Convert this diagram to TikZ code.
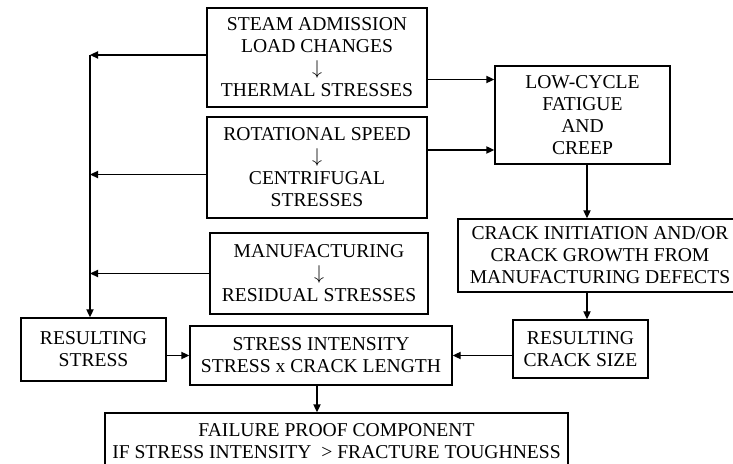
\documentclass[tikz,border=0pt]{standalone}
\usepackage{fontspec}
\setmainfont{Liberation Serif}
\usetikzlibrary{arrows.meta}

\begin{document}
\begin{tikzpicture}[x=0.5pt,y=-0.5pt,line width=0.7pt,>={Triangle[length=4pt,width=3.6pt]}]
        \tikzstyle{every node}=[font=\fontsize{9.8}{11}\selectfont,align=center,inner sep=0pt]
        \tikzstyle{box}=[draw,rectangle]
        \useasboundingbox (0,0) rectangle (733,464);
        \node[box,minimum width=110pt,minimum height=49.5pt] (steam) at (317,57.5) {STEAM ADMISSION\\LOAD CHANGES\\$\downarrow$\\THERMAL STRESSES};
        \node[box,minimum width=110pt,minimum height=50.5pt] (rot) at (317,167.5) {ROTATIONAL SPEED\\$\downarrow$\\CENTRIFUGAL\\STRESSES};
        \node[box,minimum width=109pt,minimum height=40.5pt] (manu) at (319,273.5) {MANUFACTURING\\$\downarrow$\\RESIDUAL STRESSES};
        \node[box,minimum width=87.5pt,minimum height=49pt] (low) at (582.5,115) {LOW-CYCLE\\FATIGUE\\AND\\CREEP};
        \node[box,minimum width=142pt,minimum height=36.5pt] (crack) at (600,255.5) {CRACK INITIATION AND/OR\\CRACK GROWTH FROM\\MANUFACTURING DEFECTS};
        \node[box,minimum width=67.5pt,minimum height=29pt] (rcs) at (580.5,349) {RESULTING\\CRACK SIZE};
        \node[box,minimum width=131pt,minimum height=29.5pt] (si) at (321,355.5) {STRESS INTENSITY\\STRESS x CRACK LENGTH};
        \node[box,minimum width=72.5pt,minimum height=31.5pt] (rs) at (93.5,349.5) {RESULTING\\STRESS};
        \node[box,minimum width=231.5pt,minimum height=28pt] (fail) at (336.5,441) {FAILURE PROOF COMPONENT\\IF STRESS INTENSITY\ \ > FRACTURE TOUGHNESS};
        \coordinate (bus) at (90,55);
        \draw[->] (steam.west |- bus) -- (bus);
        \draw[->] ([yshift=-3.5pt]rot.west) -- ([yshift=-3.5pt]rot.west -| bus);
        \draw[->] (manu.west) -- (manu.west -| bus);
        \draw[->] (bus) -- (bus |- rs.north);
        \draw[->] ([yshift=-11pt]steam.east) -- ([yshift=-11pt]steam.east -| low.west);
        \draw[->] ([yshift=8.75pt]rot.east) -- ([yshift=8.75pt]rot.east -| low.west);
        \draw[->] ([xshift=2.25pt]low.south) -- ([xshift=2.25pt]low.south |- crack.north);
        \draw[->] ([xshift=2.25pt]low.south |- crack.south) -- ([xshift=2.25pt]low.south |- rcs.north);
        \draw[->] (rcs.west |- si.east) -- (si.east);
        \draw[->] (rs.east |- si.west) -- (si.west);
        \draw[->] ([xshift=-2pt]si.south) -- ([xshift=-2pt]si.south |- fail.north);
    \end{tikzpicture}
\end{document}
